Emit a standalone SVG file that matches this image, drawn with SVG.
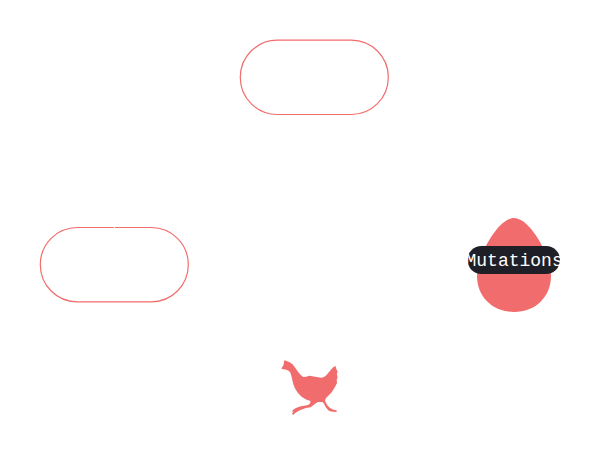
<svg xmlns="http://www.w3.org/2000/svg" width="604" height="467" viewBox="0 0 604 467">
<style>
.box{fill:#fff;stroke:#f16c6c;stroke-width:1.2}
.fillc{fill:#f16c6c}
.pill{fill:#1f1f28}
.lbl{font-family:"Liberation Mono","DejaVu Sans Mono",monospace;font-size:18px;fill:#fff}
</style>
<rect width="604" height="467" fill="#fff"/>
<g id="connectors"/>
<g id="node-top"><rect class="box" x="240.300" y="40.200" width="148" height="74.300" rx="37" ry="37"/></g>
<g id="node-left"><rect class="box" x="40.300" y="227.500" width="148" height="74.300" rx="37" ry="37"/><rect x="113.800" y="226" width="1" height="3" fill="#fff"/></g>
<g id="node-egg">
<path class="fillc" d="M514 218C530 218 551 256 551 276C551 297 535 312 514 312C493 312 477 297 477 276C477 256 498 218 514 218Z"/>
<rect class="pill" x="467.500" y="246" width="92.500" height="28" rx="14" ry="14"/>
<text class="lbl" x="465.500" y="265.800">Mutations</text>
</g>
<g id="node-hen">
<path class="fillc" d="M281.300 368.700L283.500 365L284.300 360.300L286.500 361L289.700 362.200L292.800 364.500L295 367.500L297.800 371.500L300 374.300L303 377L306 376.800L309.700 375.800L315 376.800L321.300 377.800L324 377L326.300 375.300L329 372L331.300 369.300L333.500 367L335.500 366L336.300 369L337.600 371.500L336.800 374L337.600 377L336.700 380L337 383L335.500 386L333.800 389L331.500 392.500L328.500 395.500L326 398L325 400.500L326 403L327.500 405.500L330 408L333 409.500L336.800 410.500L336.500 412L333.500 411.800L331 411.500L328.500 410.500L326 407.500L323.500 403L322.500 402L318 402L315.500 403.500L313 405.500L310.500 407.300L306 408L301 409.800L297.500 411.500L296 412.500L294 414L293.300 415.300L292 413.500L293.500 411.500L291.800 411.500L293.500 409.500L296 408L300 406.500L304 405.800L308 405L310 403.500L310.500 401L306 399.500L301.500 396.700L298 393L295.300 389L293.600 385L292.300 380L291.400 376L290.300 372.500L288.500 370.800L286.300 369.800Z"/>
</g>
</svg>
